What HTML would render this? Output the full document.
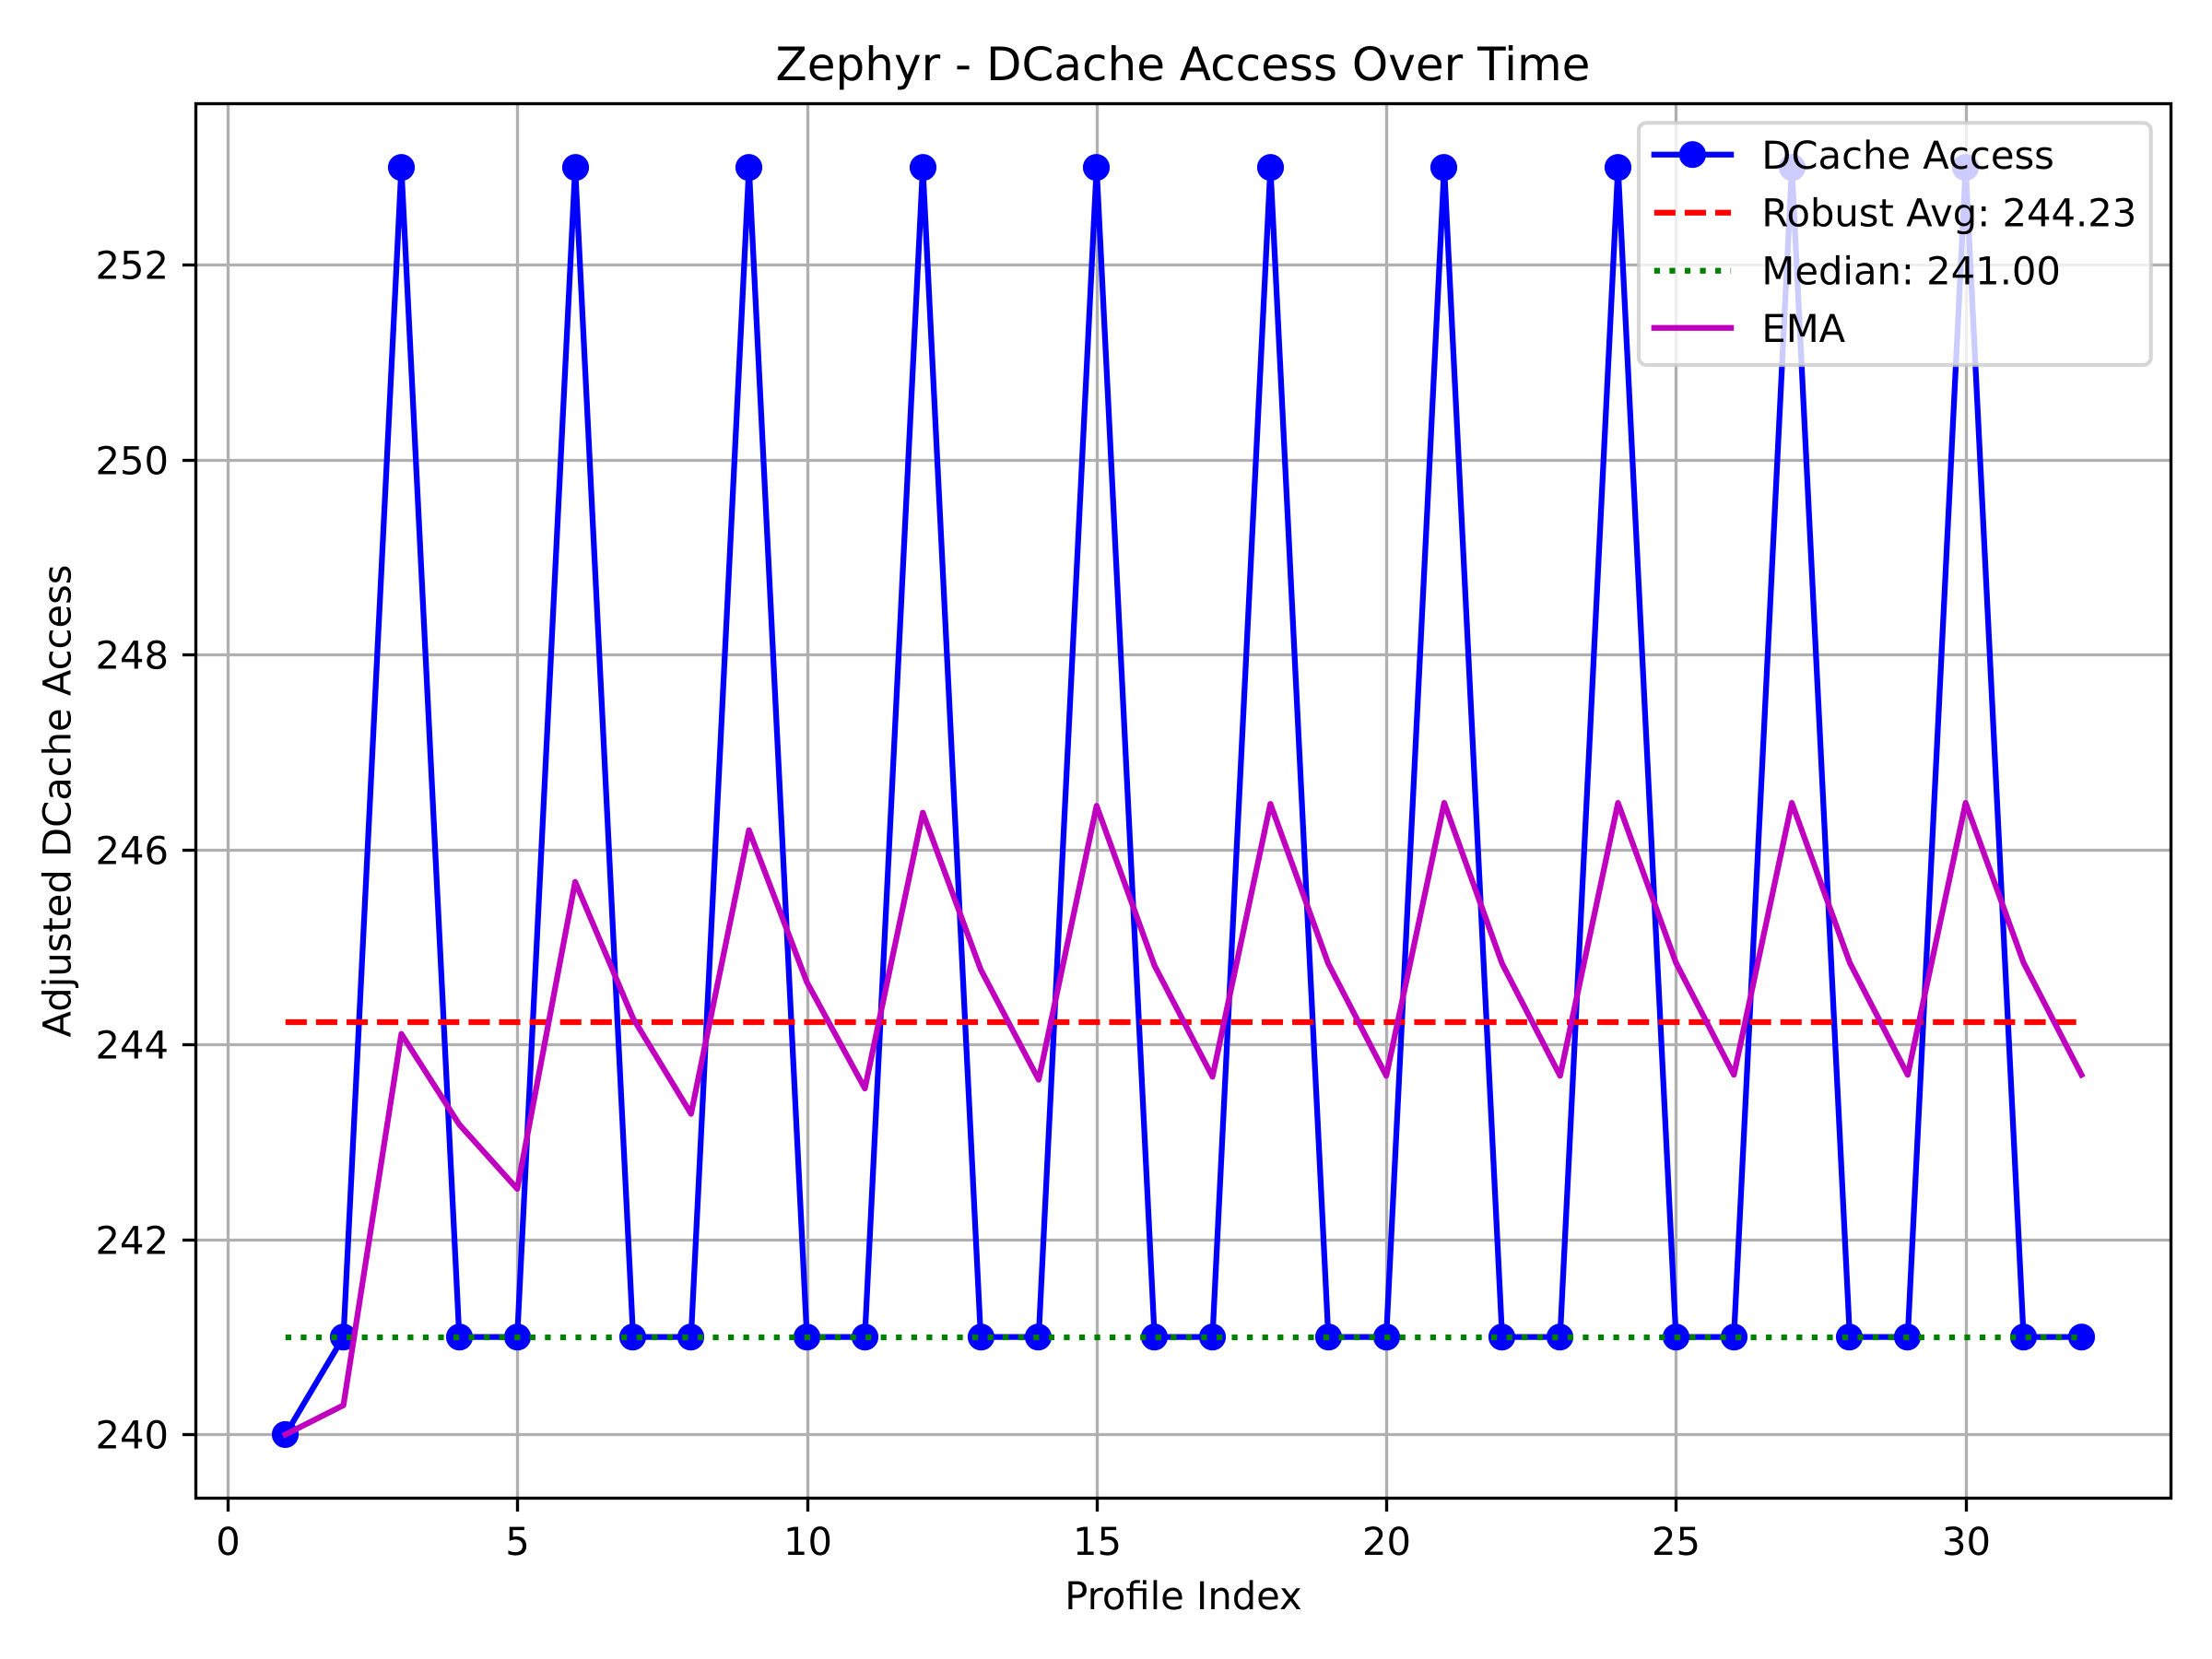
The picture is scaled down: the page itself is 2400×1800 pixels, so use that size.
<!DOCTYPE html>
<html lang="en">
<head>
<meta charset="utf-8">
<title>Zephyr - DCache Access Over Time</title>
<style>
html,body{margin:0;padding:0;background:#fff;}
svg{display:block;}
text{font-family:"DejaVu Sans","Liberation Sans",sans-serif;fill:#000;text-rendering:geometricPrecision;}
</style>
</head>
<body>
<svg id="chart" xmlns="http://www.w3.org/2000/svg" width="2400" height="1800" viewBox="0 0 2400 1800">
  <defs>
    <clipPath id="plot-clip"><rect x="212.5" y="112.5" width="2143" height="1513"/></clipPath>
  </defs>
  <rect x="0" y="0" width="2400" height="1800" fill="#ffffff"/>
  <rect x="212.5" y="112.5" width="2143" height="1513" fill="#ffffff"/>
  <g id="grid"></g>
  <g id="series" clip-path="url(#plot-clip)"></g>
  <g id="ticks"></g>
  <rect x="212.5" y="112.5" width="2143" height="1513" fill="none" stroke="#000" stroke-width="3.33"/>
  <text x="1283.5" y="87" font-size="50" text-anchor="middle">Zephyr - DCache Access Over Time</text>
  <text x="1284" y="1746" font-size="41.67" text-anchor="middle">Profile Index</text>
  <text x="0" y="0" font-size="41.67" text-anchor="middle" transform="translate(76.5 869) rotate(-90)">Adjusted DCache Access</text>
  <g>
    <rect x="1778" y="133.3" width="555.7" height="262.7" rx="8.3" ry="8.3" fill="#ffffff" fill-opacity="0.8" stroke="#cccccc" stroke-opacity="0.8" stroke-width="4.17"/>
    <g>
      <line x1="1794.8" y1="167.7" x2="1878.1" y2="167.7" stroke="#0000ff" stroke-width="6.25" stroke-linecap="square"/>
      <circle cx="1836.4" cy="167.7" r="12.5" fill="#0000ff" stroke="#0000ff" stroke-width="4.17"/>
      <text x="1911.4" y="183" font-size="41.67">DCache Access</text>
    </g>
    <g>
      <line x1="1794.8" y1="230.7" x2="1878.1" y2="230.7" stroke="#ff0000" stroke-width="6.25" stroke-dasharray="23.1 10"/>
      <text x="1911.4" y="245.5" font-size="41.67">Robust Avg: 244.23</text>
    </g>
    <g>
      <line x1="1794.8" y1="293.8" x2="1878.1" y2="293.8" stroke="#008000" stroke-width="6.25" stroke-dasharray="6.25 10.31"/>
      <text x="1911.4" y="308.5" font-size="41.67">Median: 241.00</text>
    </g>
    <g>
      <line x1="1794.8" y1="355.7" x2="1878.1" y2="355.7" stroke="#bf00bf" stroke-width="6.25" stroke-linecap="square"/>
      <text x="1911.4" y="371" font-size="41.67">EMA</text>
    </g>
  </g>
</svg>
<script>
const profileIndex = [1,2,3,4,5,6,7,8,9,10,11,12,13,14,15,16,17,18,19,20,21,22,23,24,25,26,27,28,29,30,31,32];
const dcacheAccess = [240,241,253,241,241,253,241,241,253,241,241,253,241,241,253,241,241,253,241,241,253,241,241,253,241,241,253,241,241,253,241,241];
const emaValues = [240,240.3,244.11,243.18,242.52,245.67,244.27,243.29,246.2,244.64,243.55,246.38,244.77,243.64,246.45,244.81,243.67,246.47,244.83,243.68,246.48,244.83,243.68,246.48,244.84,243.69,246.48,244.84,243.69,246.48,244.84,243.69];
const robustAvgValue = [244.23];
const medianValue = [241];
const xTickValues = [0,5,10,15,20,25,30];
const yTickValues = [240,242,244,246,248,250,252];

const SVG_NS = 'http://www.w3.org/2000/svg';
const xScale = function (v) { return 246.9 + v * 62.86; };
const yScale = function (v) { return 1556.4 - (v - 240) * 105.75; };
const snapThin = function (p) { return Math.floor(p + 0.5) + 0.5; };
const snapEven = function (p) { return Math.floor(p + 0.5); };
const gridGroup = document.getElementById('grid');
const seriesGroup = document.getElementById('series');
const ticksGroup = document.getElementById('ticks');
const PLOT_L = 212.5, PLOT_R = 2355.5, PLOT_T = 112.5, PLOT_B = 1625.5;

function applyAttrs(el, attrs) {
  Object.keys(attrs).forEach(function (k) { el.setAttribute(k, attrs[k]); });
  return el;
}

xTickValues.forEach(function (t) {
  const x = snapThin(xScale(t));
  const g = document.createElementNS(SVG_NS, 'line');
  
  
  applyAttrs(g, {x1: x, x2: x, y1: PLOT_T, y2: PLOT_B, stroke: '#b0b0b0', 'stroke-width': 3.33});
  gridGroup.appendChild(g);
  const m = document.createElementNS(SVG_NS, 'line');
  
  
  applyAttrs(m, {x1: x, x2: x, y1: PLOT_B, y2: PLOT_B + 14.6, stroke: '#000', 'stroke-width': 3.33});
  ticksGroup.appendChild(m);
  const l = document.createElementNS(SVG_NS, 'text');
  
  
  applyAttrs(l, {x: x, y: 1687, 'font-size': 41.67, 'text-anchor': 'middle'});
  l.textContent = String(t);
  ticksGroup.appendChild(l);
});

yTickValues.forEach(function (t) {
  const y = snapThin(yScale(t));
  const g = document.createElementNS(SVG_NS, 'line');
  
  
  applyAttrs(g, {x1: PLOT_L, x2: PLOT_R, y1: y, y2: y, stroke: '#b0b0b0', 'stroke-width': 3.33});
  gridGroup.appendChild(g);
  const m = document.createElementNS(SVG_NS, 'line');
  
  
  applyAttrs(m, {x1: PLOT_L - 14.6, x2: PLOT_L, y1: y, y2: y, stroke: '#000', 'stroke-width': 3.33});
  ticksGroup.appendChild(m);
  const l = document.createElementNS(SVG_NS, 'text');
  
  
  applyAttrs(l, {x: 183, y: y + 15.2, 'font-size': 41.67, 'text-anchor': 'end'});
  l.textContent = String(t);
  ticksGroup.appendChild(l);
});

const pointsOf = function (values) {
  return values.map(function (v, i) { return xScale(profileIndex[i]) + ',' + yScale(v); }).join(' ');
};

const dcacheLine = document.createElementNS(SVG_NS, 'polyline');


applyAttrs(dcacheLine, {points: pointsOf(dcacheAccess), fill: 'none', stroke: '#0000ff', 'stroke-width': 6.25, 'stroke-linejoin': 'round', 'stroke-linecap': 'square'});
seriesGroup.appendChild(dcacheLine);

dcacheAccess.forEach(function (v, i) {
  const c = document.createElementNS(SVG_NS, 'circle');
  
  
  applyAttrs(c, {cx: Math.floor(xScale(profileIndex[i])) + 0.5, cy: yScale(v), r: 12.5, fill: '#0000ff', stroke: '#0000ff', 'stroke-width': 4.17});
  seriesGroup.appendChild(c);
});

const firstX = profileIndex[0];
const lastX = profileIndex[profileIndex.length - 1];

const robustLine = document.createElementNS(SVG_NS, 'line');


applyAttrs(robustLine, {x1: xScale(firstX), x2: xScale(lastX), y1: snapEven(yScale(robustAvgValue[0])), y2: snapEven(yScale(robustAvgValue[0])), stroke: '#ff0000', 'stroke-width': 6.25, 'stroke-dasharray': '23.1 10'});
seriesGroup.appendChild(robustLine);

const medianLine = document.createElementNS(SVG_NS, 'line');


applyAttrs(medianLine, {x1: xScale(firstX), x2: xScale(lastX), y1: snapEven(yScale(medianValue[0])), y2: snapEven(yScale(medianValue[0])), stroke: '#008000', 'stroke-width': 6.25, 'stroke-dasharray': '6.25 10.31'});
seriesGroup.appendChild(medianLine);

const emaLine = document.createElementNS(SVG_NS, 'polyline');


applyAttrs(emaLine, {points: pointsOf(emaValues), fill: 'none', stroke: '#bf00bf', 'stroke-width': 6.25, 'stroke-linejoin': 'round', 'stroke-linecap': 'square'});
seriesGroup.appendChild(emaLine);
</script>
</body>
</html>
